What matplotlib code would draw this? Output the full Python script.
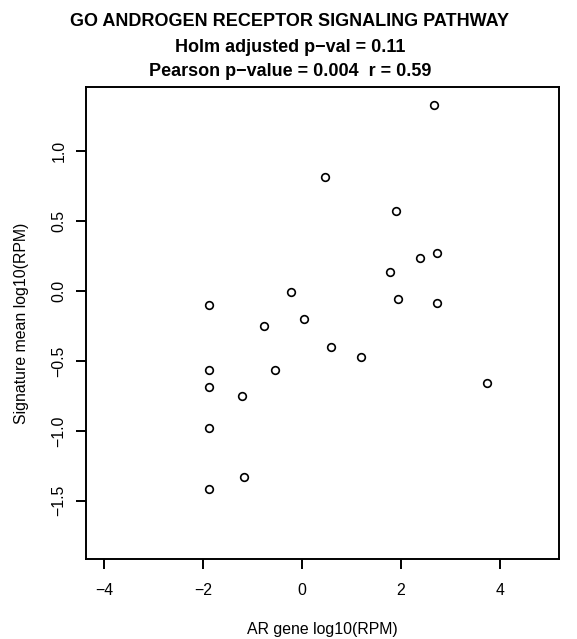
import matplotlib
matplotlib.use("Agg")
import matplotlib.pyplot as plt

ar_gene = [-1.867, -0.21, 0.046, -0.76, 0.59, 1.20, -1.867, -0.54, -1.867, -1.206,
           -1.867, -1.16, -1.867, 2.68, 1.905, 2.727, 2.384, 1.784, 1.952, 2.74,
           3.744, 0.47]
sig_mean = [-0.100, -0.005, -0.200, -0.253, -0.40, -0.472, -0.565, -0.565, -0.689, -0.749,
            -0.978, -1.328, -1.416, 1.328, 0.570, 0.270, 0.234, 0.136, -0.057, -0.083,
            -0.656, 0.815]
xticks = [-4, -2, 0, 2, 4]
yticks = [-1.5, -1.0, -0.5, 0.0, 0.5, 1.0]
title_lines = ["GO ANDROGEN RECEPTOR SIGNALING PATHWAY",
               "Holm adjusted p\u2212val = 0.11",
               "Pearson p\u2212value = 0.004  r = 0.59"]

plt.rcParams['font.family'] = ['Liberation Sans', 'DejaVu Sans']
fig = plt.figure(figsize=(5.77, 6.39), dpi=100)
ax = fig.add_axes([86/577, 1-559.3/639, (559-86)/577, (559.3-87.3)/639])
ax.plot(ar_gene, sig_mean, linestyle='none', marker='o', markersize=5.5,
        markerfacecolor='none', markeredgecolor='black', markeredgewidth=1.2)
ax.set_xlim(-4.36, 5.2)
ax.set_ylim(-1.919, 1.457)
ax.set_xticks(xticks)
ax.set_xticklabels([f"{t:d}".replace('-', '\u2212') for t in xticks])
ax.set_yticks(yticks)
ax.set_yticklabels([f"{t:.1f}".replace('-', '\u2212') for t in yticks],
                   rotation=90, va='center')
for s in ax.spines.values():
    s.set_linewidth(1.4)
ax.tick_params(direction='out', length=7, width=1.4, labelsize=11.4, pad=10)
ax.tick_params(axis='y', pad=7)
ax.set_xlabel("AR gene log10(RPM)", fontsize=11.4, labelpad=17)
ax.set_ylabel("Signature mean log10(RPM)", fontsize=11.4, labelpad=16)
ys = [22, 47, 71]
for t, y in zip(title_lines, ys):
    fig.text(290/577, 1-y/639, t, ha='center', va='center', fontsize=13,
             fontweight='bold')
fig.savefig("out.png", dpi=100)
